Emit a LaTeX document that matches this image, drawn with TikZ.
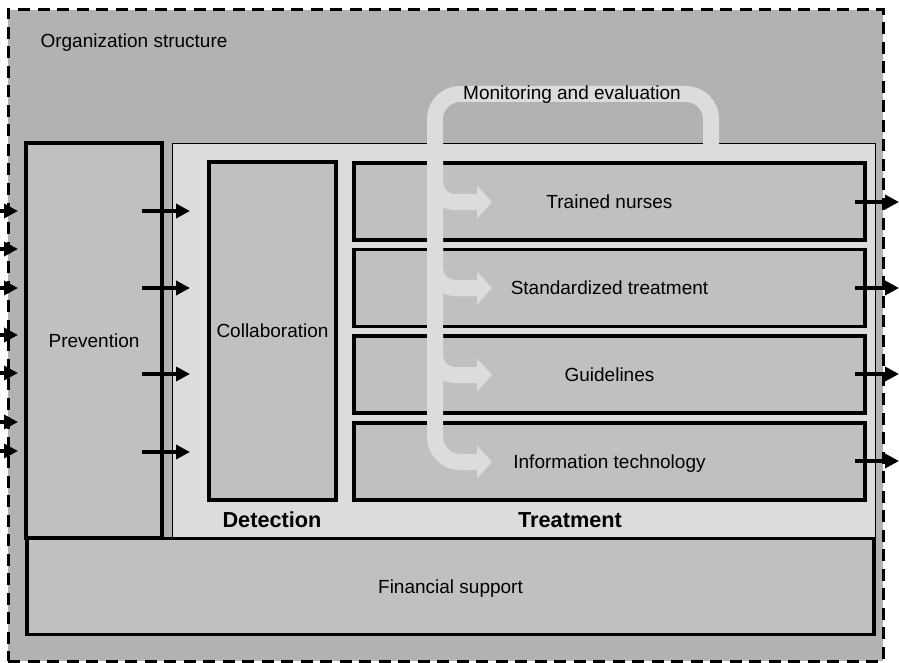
\documentclass[tikz,border=0pt]{standalone}
\usepackage{fontspec}
\setmainfont{Liberation Sans}
\usetikzlibrary{arrows.meta}
\definecolor{outerg}{HTML}{B2B2B2}
\definecolor{boxg}{HTML}{C0C0C0}
\definecolor{panelg}{HTML}{DCDCDC}
\begin{document}
\begin{tikzpicture}[x=1pt,y=-1pt, font=\fontsize{19}{22}\selectfont,
 every node/.style={text height=13.6pt, text depth=0pt},
 box/.style={draw=black, line width=3.2pt, fill=boxg, inner sep=0pt},
 arr/.style={line width=4.8pt, -{Triangle[length=14pt,width=14pt]}},
 band/.style={draw=panelg, line width=16pt, rounded corners=20pt},
 bandtip/.style={band, -{Triangle[length=15pt,width=32pt]}},
 lbl/.style={font=\fontsize{21.7}{24}\selectfont\bfseries, text height=15.5pt}]
\useasboundingbox (0,0) rectangle (899,663);
% outer organization frame
\node[draw=black, line width=3pt, dash pattern=on 12pt off 7.5pt, fill=outerg,
  minimum width=875pt, minimum height=651pt, inner sep=0pt] (org) at (445.5,335.5) {};
\node[anchor=west] (orgl) at (37,41) {Organization structure};
% panel
\node[draw=black, line width=0.8pt, fill=panelg, minimum width=703pt,
  minimum height=395pt, inner sep=0pt] (panel) at (523.5,340.5) {};
% boxes
\node[box, minimum width=136pt, minimum height=395pt] (prev) at (94,340.5) {Prevention};
\node[box, minimum width=127pt, minimum height=338pt] (coll) at (272.5,331) {Collaboration};
\node[box, minimum width=511pt, minimum height=77pt] (r1) at (609.5,201.5) {Trained nurses};
\node[box, minimum width=511pt, minimum height=77pt] (r2) at (609.5,288) {Standardized treatment};
\node[box, minimum width=511pt, minimum height=77pt] (r3) at (609.5,374.5) {Guidelines};
\node[box, minimum width=511pt, minimum height=77pt] (r4) at (609.5,461.5) {Information technology};
\node[box, minimum width=847pt, minimum height=96pt] (fin) at (450.5,586.5) {Financial support};
\node[lbl] (det) at (272,520) {Detection};
\node[lbl] (trt) at (570,520) {Treatment};
% monitoring band
\draw[bandtip, rounded corners=25pt] (711,146) -- (711,94) -- (435,94) -- (435,462) -- (492,462);
\foreach \y in {202,288,375}{
  \draw[bandtip] (435,\y-40) -- (435,\y) -- (492,\y);
}
\node (mon) at (572,93) {Monitoring and evaluation};
% left input arrows
\foreach \y [count=\i] in {211,249,288,335,373,422,451}{
  \coordinate (la\i) at (-4,\y);
  \coordinate (lb\i) at (18,\y);
  \draw[arr] (la\i) -- (lb\i);
}
% prevention -> detection arrows
\foreach \y [count=\i] in {211,288,374,452}{
  \coordinate (ma\i) at (142,\y);
  \coordinate (mb\i) at (190,\y);
  \draw[arr] (ma\i) -- (mb\i);
}
% outputs
\foreach \y [count=\i] in {202,288,374,461}{
  \coordinate (ra\i) at (855,\y);
  \coordinate (rb\i) at (899,\y);
  \draw[arr] (ra\i) -- (rb\i);
}
\end{tikzpicture}
\end{document}
